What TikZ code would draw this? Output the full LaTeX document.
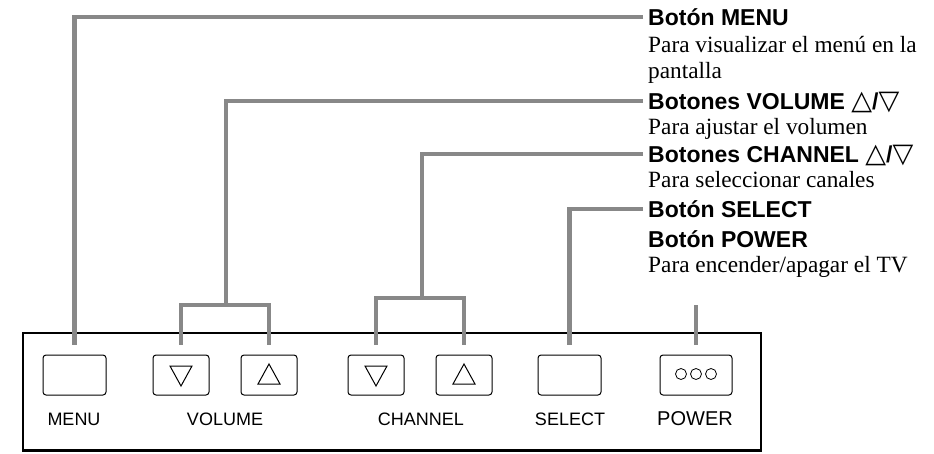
\documentclass[tikz,border=0pt]{standalone}
\usepackage{fontspec}
\setmainfont{Liberation Serif}
\setsansfont{Liberation Sans}
\newfontfamily\symfont{DejaVu Sans}
\usetikzlibrary{positioning}
\definecolor{leadgray}{RGB}{136,136,136}
\newcommand{\tup}{{\symfont\mdseries\fontsize{27}{26}\selectfont △}}
\newcommand{\tdn}{{\symfont\mdseries\fontsize{27}{26}\selectfont ▽}}
\begin{document}
\begin{tikzpicture}[x=1pt,y=-1pt,
  lead/.style={draw=leadgray,line width=4.2pt},
  btn/.style={draw,line width=1pt,rounded corners=3pt,minimum width=#1,minimum height=40pt,inner sep=0pt},
  head/.style={anchor=west,inner sep=0pt,text height=18pt,text depth=2pt,font=\sffamily\bfseries\fontsize{23}{26}\selectfont},
  desc/.style={anchor=base west,inner sep=0pt,align=left,font=\fontsize{23.3}{26.5}\selectfont},
  btnlabel/.style={anchor=base,inner sep=0pt,font=\sffamily\fontsize{18}{20}\selectfont}]
\useasboundingbox (0,0) rectangle (934,453);
\draw[line width=2pt] (23,333) rectangle (761,450.5);
\draw[line width=3pt] (23,450.5) -- (761,450.5);

\node[btn=63pt] (menu) at (74.5,375) {};
\node[btn=56pt] (voldn) at (181,375) {};
\node[btn=56pt] (volup) at (269,375) {};
\node[btn=56pt] (chdn) at (376,375) {};
\node[btn=56pt] (chup) at (464,375) {};
\node[btn=63pt] (select) at (569.5,375) {};
\node[btn=72pt] (power) at (696,375) {};

\draw[line width=1pt] ([shift={(-11,-9)}]voldn.center) -- ++(22,0) -- ++(-11,20) -- cycle;
\draw[line width=1pt] ([shift={(-11,-9)}]chdn.center) -- ++(22,0) -- ++(-11,20) -- cycle;
\draw[line width=1pt] ([shift={(-11,9)}]volup.center) -- ++(22,0) -- ++(-11,-20) -- cycle;
\draw[line width=1pt] ([shift={(-11,9)}]chup.center) -- ++(22,0) -- ++(-11,-20) -- cycle;
\foreach \dx in {-15,0,15}
  \draw[line width=0.8pt] ([shift={(\dx,-1)}]power.center) circle (5.5pt);

\node[btnlabel] (menucap) at (74,425) {MENU};
\node[btnlabel] (volcap) at (225,425) {VOLUME};
\node[btnlabel] (chcap) at (421,425) {CHANNEL};
\node[btnlabel] (selcap) at (570,425) {SELECT};
\node[btnlabel,font=\sffamily\fontsize{20}{22}\selectfont] (powcap) at (695,425) {POWER};

\node[head] (menuhd) at (648,17) {Botón MENU};
\node[desc] (menudsc) at (648,78.5) {Para visualizar el menú en la\\pantalla};
\node[head] (volhd) at (648,101) {Botones VOLUME \tup/\tdn};
\node[desc] (voldsc) at (648,134) {Para ajustar el volumen};
\node[head] (chhd) at (648,154) {Botones CHANNEL \tup/\tdn};
\node[desc] (chdsc) at (648,187) {Para seleccionar canales};
\node[head] (selhd) at (648,209) {Botón SELECT};
\node[head] (powhd) at (648,239) {Botón POWER};
\node[desc] (powdsc) at (648,272) {Para encender/apagar el TV};

\coordinate (volfork) at (226,305);
\coordinate (chfork) at (422,298);
\coordinate (powtop) at (697,305);

\draw[lead] ([xshift=-5pt]menuhd.west) -| ([yshift=10pt]menu.north);
\draw[lead] ([xshift=-5pt]volhd.west) -| (volfork);
\draw[lead] ([yshift=10pt]voldn.north) |- (volfork) -| ([yshift=10pt]volup.north);
\draw[lead] ([xshift=-5pt]chhd.west) -| (chfork);
\draw[lead] ([yshift=10pt]chdn.north) |- (chfork) -| ([yshift=10pt]chup.north);
\draw[lead] ([xshift=-5pt]selhd.west) -| ([yshift=10pt]select.north);
\draw[lead] ([yshift=10pt]power.north) -- (power.north |- powtop);
\end{tikzpicture}
\end{document}
